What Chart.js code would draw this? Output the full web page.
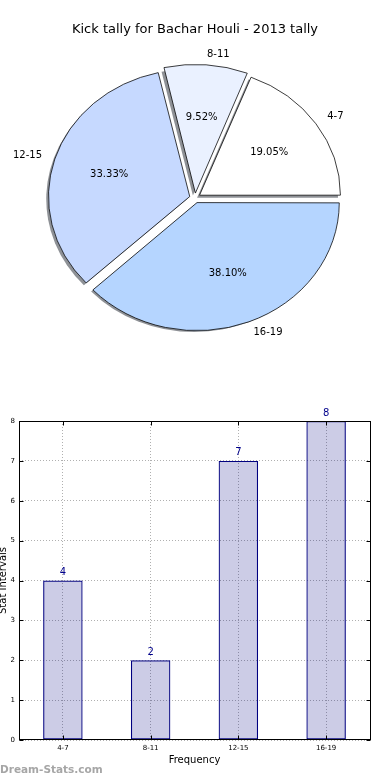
<!DOCTYPE html>
<html>
<head>
<meta charset="utf-8">
<script src="https://cdn.jsdelivr.net/npm/chart.js@4.4.1/dist/chart.umd.min.js"></script>
<style>
  html, body { margin: 0; padding: 0; background: #fff; }
  .box { position: relative; width: 390px; height: 390px; }
</style>
</head>
<body>
<div class="box"><canvas id="kickPie"></canvas></div>
<div class="box"><canvas id="kickBar"></canvas></div>
<script>
// data
var intervals = ['4-7', '8-11', '12-15', '16-19'];
var kicks = [4, 2, 7, 8];
var pieColours = ['#ffffff', '#eaf1ff', '#c6d9ff', '#b5d5ff'];
var yMax = 8;

Chart.defaults.font.family = '"DejaVu Sans", Verdana, sans-serif';
Chart.defaults.color = '#000';

var total = kicks.reduce(function(a, b) { return a + b; }, 0);
var squash = 0.9;    // the pie is drawn a little flattened
var slideOut = 22;   // arc offset (chart.js moves it by offset/4)

// pie goes counter clockwise from 3 o'clock, so feed it reversed
var pieLabels = intervals.slice().reverse();
var pieValues = kicks.slice().reverse();
var pieFill = pieColours.slice().reverse();

var pieExtras = {
  id: 'pieExtras',
  beforeDatasetsDraw: function(chart) {
    var ctx = chart.ctx;
    var arcs = chart.getDatasetMeta(0).data;
    var a = arcs[0];
    var off = slideOut / 4;
    // shadows first, slightly left and down
    ctx.save();
    ctx.translate(-2.5, 2.5);
    ctx.translate(a.x, a.y);
    ctx.scale(1, squash);
    ctx.translate(-a.x, -a.y);
    ctx.fillStyle = 'rgba(30,35,45,0.5)';
    arcs.forEach(function(arc) {
      var mid = (arc.startAngle + arc.endAngle) / 2;
      var cx = arc.x + Math.cos(mid) * off;
      var cy = arc.y + Math.sin(mid) * off;
      ctx.beginPath();
      ctx.moveTo(cx, cy);
      ctx.arc(cx, cy, arc.outerRadius + 0.5, arc.startAngle, arc.endAngle);
      ctx.closePath();
      ctx.fill();
    });
    ctx.restore();
    // squash the slices themselves
    ctx.save();
    ctx.translate(a.x, a.y);
    ctx.scale(1, squash);
    ctx.translate(-a.x, -a.y);
  },
  afterDatasetsDraw: function(chart) {
    var ctx = chart.ctx;
    ctx.restore();
    var off = slideOut / 4;
    ctx.save();
    ctx.fillStyle = '#000';
    ctx.font = '10px "DejaVu Sans"';
    ctx.textBaseline = 'middle';
    chart.getDatasetMeta(0).data.forEach(function(arc, i) {
      var mid = (arc.startAngle + arc.endAngle) / 2;
      var r = arc.outerRadius;
      var c = Math.cos(mid), s = Math.sin(mid);
      // label outside
      var lx = arc.x + c * (off + r * 1.1);
      var ly = arc.y + s * (off + r * 1.1) * squash;
      ctx.textAlign = c > 0 ? 'left' : 'right';
      ctx.fillText(pieLabels[i], lx, ly);
      // percent inside
      var px = arc.x + c * (off + r * 0.6);
      var py = arc.y + s * (off + r * 0.6) * squash;
      ctx.textAlign = 'center';
      ctx.fillText((pieValues[i] / total * 100).toFixed(2) + '%', px, py);
    });
    ctx.restore();
  }
};

new Chart('kickPie', {
  type: 'pie',
  data: {
    labels: pieLabels,
    datasets: [{
      data: pieValues,
      backgroundColor: pieFill,
      borderColor: '#000',
      borderWidth: 0.8,
      offset: slideOut
    }]
  },
  options: {
    responsive: true,
    maintainAspectRatio: false,
    animation: false,
    events: [],
    rotation: 90,
    radius: 140.5,
    layout: { padding: { top: 0, left: 0, right: 0, bottom: 39.6 } },
    plugins: {
      legend: { display: false },
      tooltip: { enabled: false },
      title: {
        display: true,
        text: 'Kick tally for Bachar Houli - 2013 tally',
        font: { size: 13, weight: 'normal' },
        color: '#000',
        padding: { top: 22, bottom: 8 }
      }
    }
  },
  plugins: [pieExtras]
});

// bar chart bits: frame, inner ticks, value labels, watermark
var barExtras = {
  id: 'barExtras',
  afterDatasetsDraw: function(chart) {
    var ctx = chart.ctx;
    ctx.save();
    ctx.fillStyle = '#00008b';
    ctx.font = '10px "DejaVu Sans"';
    ctx.textAlign = 'center';
    ctx.textBaseline = 'middle';
    chart.getDatasetMeta(0).data.forEach(function(bar, i) {
      ctx.fillText(String(kicks[i]), bar.x, bar.y - 8);
    });
    ctx.restore();
  },
  afterDraw: function(chart) {
    var ctx = chart.ctx;
    var a = chart.chartArea;
    var L = Math.round(a.left) + 0.5, R = Math.round(a.right) + 0.5;
    var T = Math.round(a.top) + 0.5, B = Math.round(a.bottom) - 0.5;
    ctx.save();
    ctx.strokeStyle = '#000';
    ctx.lineWidth = 1;
    ctx.strokeRect(L, T, R - L, B - T);
    ctx.beginPath();
    var ys = chart.scales.y, xs = chart.scales.x;
    for (var v = 0; v <= yMax; v++) {
      var y = Math.round(ys.getPixelForValue(v)) + 0.5;
      ctx.moveTo(L, y); ctx.lineTo(L + 4, y);
      ctx.moveTo(R, y); ctx.lineTo(R - 4, y);
    }
    intervals.forEach(function(lab, i) {
      var x = Math.round(xs.getPixelForValue(i)) + 0.5;
      ctx.moveTo(x, B); ctx.lineTo(x, B - 4);
      ctx.moveTo(x, T); ctx.lineTo(x, T + 4);
    });
    ctx.stroke();
    ctx.fillStyle = '#a6a6a6';
    ctx.font = 'bold 10.5px "DejaVu Sans"';
    ctx.textAlign = 'left';
    ctx.textBaseline = 'middle';
    ctx.fillText('Dream-Stats.com', 0, 380);
    ctx.restore();
  }
};

new Chart('kickBar', {
  type: 'bar',
  data: {
    labels: intervals,
    datasets: [{
      data: kicks,
      backgroundColor: 'rgba(0,0,128,0.2)',
      borderColor: '#000080',
      borderWidth: 1.2,
      borderSkipped: false,
      barPercentage: 0.45,
      categoryPercentage: 1
    }]
  },
  options: {
    responsive: true,
    maintainAspectRatio: false,
    animation: false,
    events: [],
    layout: { padding: { top: 31, right: 20, bottom: 0, left: 0 } },
    plugins: { legend: { display: false }, tooltip: { enabled: false } },
    scales: {
      x: {
        grid: { offset: false, color: '#b0b0b0', drawTicks: false },
        border: { display: false, dash: [1, 2] },
        ticks: { font: { size: 7 }, color: '#000', padding: 4 },
        title: { display: true, text: 'Frequency', font: { size: 10 }, color: '#000', padding: { top: 0, bottom: 14 } },
        afterFit: function(s) { s.height = 40; }
      },
      y: {
        min: 0,
        max: yMax,
        ticks: { stepSize: 1, font: { size: 7 }, color: '#000', padding: 4 },
        grid: { color: '#b0b0b0', drawTicks: false },
        border: { display: false, dash: [1, 2] },
        title: { display: true, text: 'Stat Intervals', font: { size: 10 }, color: '#000', padding: { top: -3, bottom: 0 } },
        afterFit: function(s) { s.width = 19; }
      }
    }
  },
  plugins: [barExtras]
});
</script>
</body>
</html>
